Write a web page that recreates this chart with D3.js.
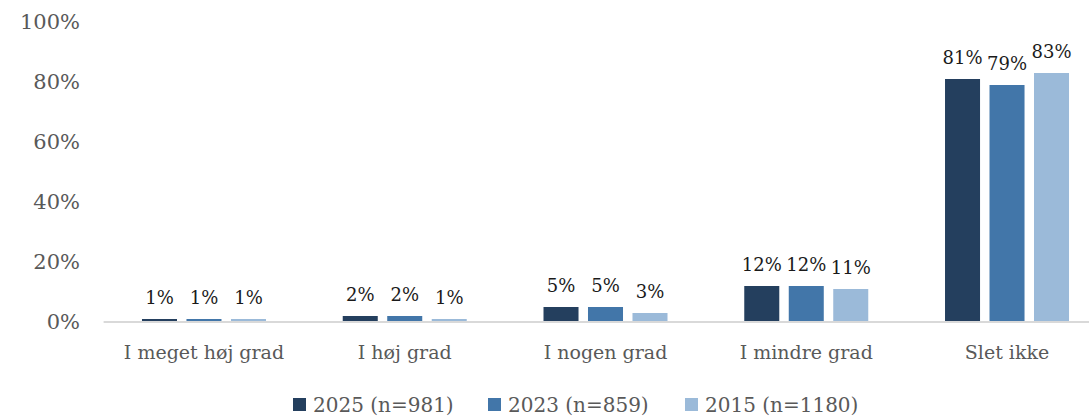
<!DOCTYPE html>
<html>
<head>
<meta charset="utf-8">
<script src="https://cdn.jsdelivr.net/npm/d3@7"></script>
<style>
  body { margin: 0; background: #fff; }
  svg { display: block; }
  text { font-family: "DejaVu Serif", "Liberation Serif", serif; }
</style>
</head>
<body>
<svg id="chart" width="1089" height="416"></svg>
<script>
// Answer categories along the x axis
const categories = ["I meget høj grad", "I høj grad", "I nogen grad", "I mindre grad", "Slet ikke"];
// Survey rounds shown as grouped bars
const seriesNames = ["2025 (n=981)", "2023 (n=859)", "2015 (n=1180)"];
const seriesColors = ["#243f5e", "#4276a9", "#9bbad9"];
// Shares in percent, one array per round
const values2025 = [1, 2, 5, 12, 81];
const values2023 = [1, 2, 5, 12, 79];
const values2015 = [1, 1, 3, 11, 83];
const yTicks = [0, 20, 40, 60, 80, 100];

const seriesValues = [values2025, values2023, values2015];

const svg = d3.select("#chart");
const W = 1089;
const plotLeft = 103.6, plotRight = 1107.4; // plot area runs past the right edge of the canvas
const yBottom = 322, yTop = 22;

const x0 = d3.scaleBand().domain(categories).range([plotLeft, plotRight]).padding(0);
const groupWidth = 124;
const x1 = d3.scaleBand().domain(d3.range(seriesNames.length))
  .range([(x0.bandwidth() - groupWidth) / 2, (x0.bandwidth() + groupWidth) / 2])
  .paddingInner(0.213);
const y = d3.scaleLinear().domain([0, 100]).range([yBottom, yTop]);

// y axis labels (no line, no ticks)
const yAxis = svg.append("g")
  .attr("transform", `translate(${80},0)`)
  .call(d3.axisLeft(y).tickValues(yTicks).tickFormat(d => d + "%").tickSize(0).tickPadding(0));
yAxis.select(".domain").remove();
yAxis.selectAll("text").attr("fill", "#595959").style("font-size", "21px")
  .style("font-family", "DejaVu Serif, serif");

// grouped bars
const groups = svg.append("g").selectAll("g")
  .data(categories)
  .join("g")
  .attr("transform", d => `translate(${x0(d)},0)`);

const cells = (d, i) => seriesValues.map((s, k) => ({ k, v: s[i] }));

groups.selectAll("rect")
  .data(cells)
  .join("rect")
  .attr("x", d => x1(d.k))
  .attr("width", x1.bandwidth())
  .attr("y", d => y(d.v))
  .attr("height", d => y(0) - y(d.v))
  .attr("fill", d => seriesColors[d.k]);

groups.selectAll("text.lbl")
  .data(cells)
  .join("text")
  .attr("class", "lbl")
  .attr("x", d => x1(d.k) + x1.bandwidth() / 2)
  .attr("y", d => y(d.v) - 15.5)
  .attr("text-anchor", "middle")
  .attr("fill", "#1a1a1a")
  .style("font-size", "18px")
  .text(d => d.v + "%");

// x axis baseline and category labels
const xAxis = svg.append("g")
  .attr("transform", `translate(0,${y(0)})`)
  .call(d3.axisBottom(x0).tickSize(0).tickPadding(24));
xAxis.select(".domain").attr("stroke", "#d9d9d9").attr("stroke-width", 2)
  .attr("d", `M${plotLeft},0H${W}`);
xAxis.selectAll("text").attr("fill", "#595959").style("font-size", "19px")
  .style("font-family", "DejaVu Serif, serif");

// legend
const legendX = [293, 488, 685];
const legend = svg.append("g").selectAll("g")
  .data(seriesNames)
  .join("g")
  .attr("transform", (d, i) => `translate(${legendX[i]},404.5)`);
legend.append("rect").attr("x", 0).attr("y", -6.5).attr("width", 13).attr("height", 13)
  .attr("fill", (d, i) => seriesColors[i]);
legend.append("text").attr("x", 20).attr("y", 0).attr("dy", "0.35em")
  .attr("fill", "#595959").style("font-size", "20px").text(d => d);
</script>
</body>
</html>
